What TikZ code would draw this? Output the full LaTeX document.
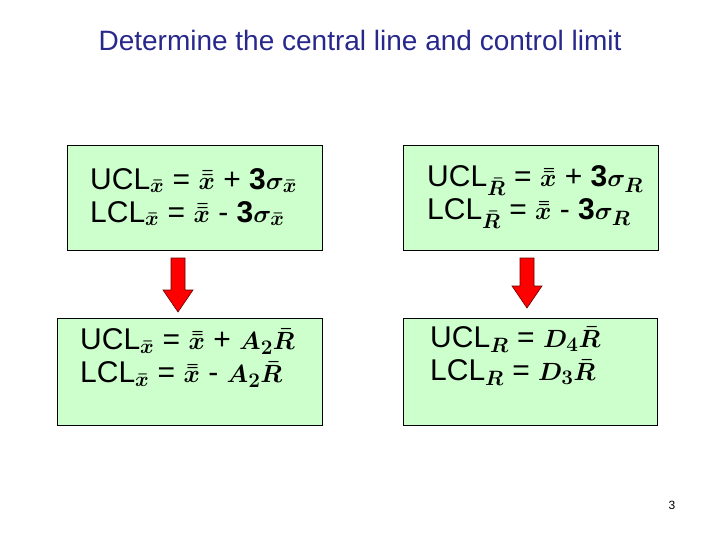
\documentclass[tikz,border=0pt]{standalone}
\usepackage{amsmath,amssymb,bm}
\usepackage{fontspec}
\setmainfont{Liberation Sans}
\definecolor{boxg}{RGB}{204,255,204}
\definecolor{titleblue}{RGB}{40,40,140}
\tikzset{
 fbox/.style={draw=black,line width=0.8pt,fill=boxg},
 ftext/.style={anchor=west,align=left,font=\fontsize{30}{33}\selectfont\mathversion{bold},inner sep=0pt},
 darr/.style={draw=black!60!red,fill=red,line width=0.6pt}
}
\newcommand{\xb}{\bar{x}}
\newcommand{\xbb}{\bar{\bar{x}}}
\newcommand{\downarr}[3]{\draw[darr] (#1-7,#2) -- (#1+7,#2) -- (#1+7,#3-22) -- (#1+15,#3-22) -- (#1,#3) -- (#1-15,#3-22) -- (#1-7,#3-22) -- cycle;}
\begin{document}
\begin{tikzpicture}[x=1pt,y=-1pt]
\useasboundingbox (0,0) rectangle (720,540);
\node (title) at (360,40) {\fontsize{28}{32}\selectfont\color{titleblue}Determine the central line and control limit};
\draw[fbox] (67,145) rectangle (322,250);
\draw[fbox] (403,145) rectangle (658,250);
\draw[fbox] (57,318) rectangle (322,425);
\draw[fbox] (403,318) rectangle (657,425);
\node[ftext] (tl) at (90,197) {UCL$_{\xb}$ = $\xbb$ + \textbf{3}$\bm{\sigma}_{\xb}$\\LCL$_{\xb}$ = $\xbb$ - \textbf{3}$\bm{\sigma}_{\xb}$};
\node[ftext] (tr) at (427,197) {UCL$_{\bar R}$ = $\xbb$ + \textbf{3}$\bm{\sigma}_{R}$\\LCL$_{\bar R}$ = $\xbb$ - \textbf{3}$\bm{\sigma}_{R}$};
\node[ftext] (bl) at (80,358) {UCL$_{\xb}$ = $\xbb$ + $A_2\bar R$\\LCL$_{\xb}$ = $\xbb$ - $A_2\bar R$};
\node[ftext] (br) at (430,356) {UCL$_{R}$ = $D_4\bar R$\\LCL$_{R}$ = $D_3\bar R$};
\downarr{178}{258}{312}
\downarr{527}{258}{308}
\node (pg) at (672,505) {\fontsize{12}{14}\selectfont 3};
\end{tikzpicture}
\end{document}
